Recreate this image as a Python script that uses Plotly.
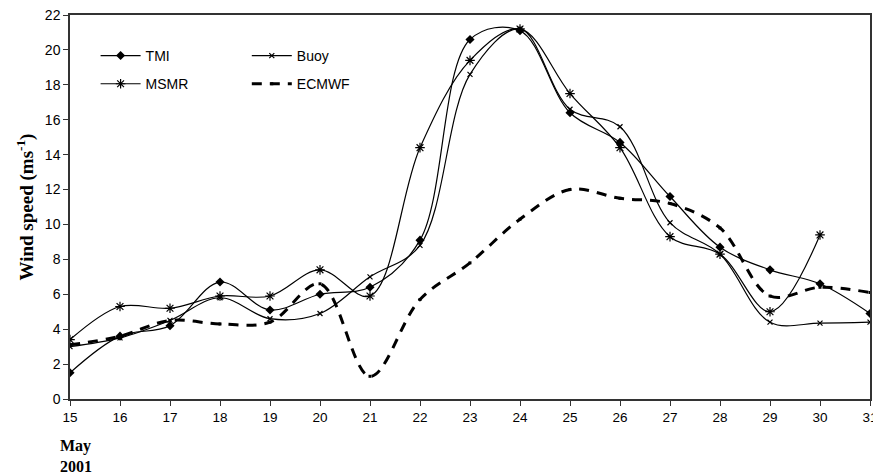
import plotly.graph_objects as go

days = list(range(15, 32))
x_ticks = [str(d) for d in days]

tmi = [1.5, 3.6, 4.2, 6.7, 5.1, 6.0, 6.4, 9.1, 20.6, 21.1, 16.4, 14.7, 11.6, 8.7, 7.4, 6.6, 4.9]
buoy = [3.0, 3.5, 4.5, 5.8, 4.6, 4.9, 7.0, 8.8, 18.6, 21.2, 16.6, 15.6, 10.1, 8.3, 4.4, 4.35, 4.4]
msmr = [3.4, 5.3, 5.2, 5.9, 5.9, 7.4, 5.9, 14.4, 19.4, 21.2, 17.5, 14.4, 9.3, 8.3, 5.0, 9.4, None]
ecmwf = [3.1, 3.6, 4.5, 4.3, 4.4, 6.6, 1.3, 5.7, 7.8, 10.3, 12.0, 11.5, 11.2, 9.8, 5.9, 6.4, 6.1]

fig = go.Figure()
LINE = dict(color="black", width=1.2, shape="spline", smoothing=1)

fig.add_trace(go.Scatter(x=days, y=tmi, name="TMI", mode="lines+markers",
                         line=LINE, marker=dict(symbol="diamond", size=7, color="black"),
                         legend="legend", legendgroup="a"))
fig.add_trace(go.Scatter(x=days, y=msmr, name="MSMR", mode="lines+markers",
                         line=LINE, connectgaps=False,
                         marker=dict(symbol="asterisk-open", size=8, color="black",
                                     line=dict(color="black", width=1.2)),
                         legend="legend", legendgroup="b"))
fig.add_trace(go.Scatter(x=days, y=buoy, name="Buoy", mode="lines+markers",
                         line=LINE,
                         marker=dict(symbol="x-thin-open", size=5, color="black",
                                     line=dict(color="black", width=1.2)),
                         legend="legend2", legendgroup="c"))
fig.add_trace(go.Scatter(x=days, y=ecmwf, name="ECMWF", mode="lines+markers",
                         line=dict(color="black", width=3, dash="10px,8px", shape="spline", smoothing=1),
                         marker=dict(symbol="square", size=3, color="black"),
                         legend="legend2", legendgroup="d"))

legend_common = dict(font=dict(family="Liberation Sans, Arial", size=14, color="black"),
                     bgcolor="rgba(0,0,0,0)", tracegroupgap=7, itemwidth=40,
                     xanchor="left", yanchor="top")

fig.update_layout(
    width=873, height=474,
    margin=dict(l=70, r=3, t=15, b=75),
    plot_bgcolor="white", paper_bgcolor="white",
    font=dict(family="Liberation Sans, Arial", size=13, color="black"),
    legend=dict(x=0.032, y=0.935, **legend_common),
    legend2=dict(x=0.221, y=0.935, **legend_common),
    xaxis=dict(range=[15, 31], tickmode="array", tickvals=days, ticktext=x_ticks,
               showline=True, linecolor="#333", linewidth=1.5, mirror=True,
               ticks="outside", ticklen=5, tickcolor="#333", showgrid=False, zeroline=False,
               ticklabeloverflow="allow", automargin=False, tickfont=dict(size=13.5)),
    yaxis=dict(range=[0, 22], dtick=2, showline=True, linecolor="#333", linewidth=1.5,
               mirror=True, ticks="outside", ticklen=5, tickcolor="#333",
               showgrid=False, zeroline=False, tickfont=dict(size=14), automargin=False,
               title=dict(text="<b>Wind speed (ms<sup>-1</sup>)</b>",
                          font=dict(family="Liberation Serif, Times New Roman", size=19),
                          standoff=6)),
    annotations=[dict(text="<b>May<br>2001</b>", xref="x", yref="paper", x=15, y=-0.095,
                      xanchor="center", yanchor="top", xshift=6, showarrow=False, align="left",
                      font=dict(family="Liberation Serif, Times New Roman", size=16, color="black"))],
)

fig.write_html("out.html")
